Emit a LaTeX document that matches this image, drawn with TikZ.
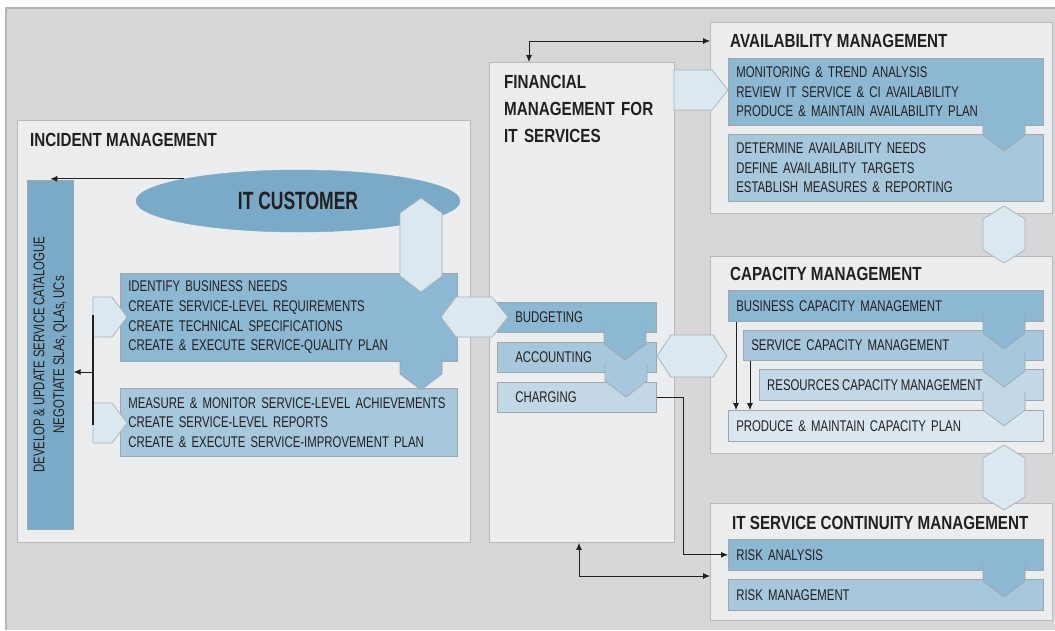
\documentclass[tikz,border=0pt]{standalone}
\usepackage{fontspec}
\usepackage{graphicx}
\usetikzlibrary{positioning,shapes.geometric,arrows.meta,calc}

\newfontfamily\bodyfont[FakeStretch=0.735, WordSpace=0.85]{Liberation Sans}
\newfontfamily\headfont[FakeStretch=0.8]{Liberation Sans}
\newfontfamily\custfont[FakeStretch=0.7]{Liberation Sans}
\newcommand{\bodysize}{\bodyfont\fontsize{15.5}{19.6}\selectfont}
\newcommand{\headsize}{\headfont\bfseries\fontsize{19}{27}\selectfont}

\definecolor{cBg}{HTML}{D7D7D9}
\definecolor{cFrame}{HTML}{B4B4B6}
\definecolor{cPanel}{HTML}{ECEDEF}
\definecolor{cPanelLine}{HTML}{B9B9BB}
\definecolor{cBoxLine}{HTML}{A0A6AC}
\definecolor{cInk}{HTML}{231F20}
\definecolor{cBlueA}{HTML}{7AAAC8}
\definecolor{cBlueB}{HTML}{8DB8D3}
\definecolor{cBlueC}{HTML}{A7C7DC}
\definecolor{cBlueD}{HTML}{C2D8E6}
\definecolor{cBlueE}{HTML}{DAE7F0}
\definecolor{cLite}{HTML}{DCE8F0}
\definecolor{cLiteLine}{HTML}{A8B0B8}

\begin{document}
\begin{tikzpicture}[x=1pt, y=-1pt,
  panel/.style={rectangle, draw=cPanelLine, fill=cPanel, line width=0.9pt, anchor=north west, inner sep=0pt},
  box/.style={rectangle, draw=cBoxLine, line width=0.6pt, anchor=north west, inner xsep=8pt, inner ysep=0pt, align=left, font=\bodysize, text=cInk},
  title/.style={anchor=base west, inner sep=0pt, font=\headsize, text=cInk},
  hexa/.style={fill=cLite, draw=cLiteLine, line width=0.7pt},
  side/.style={draw=cBoxLine, line width=0.6pt},
  conn/.style={draw=cInk, line width=0.8pt, -{Latex[length=7pt,width=6pt]}},
  twoway/.style={draw=cInk, line width=0.8pt, {Latex[length=7pt,width=6pt]}-{Latex[length=7pt,width=6pt]}}]

 \useasboundingbox (0,0) rectangle (1055,630);
 \fill[cBg] (6,8) rectangle (1055,630);
 \draw[cFrame, line width=1.5pt] (6,630) -- (6,8) -- (1055,8);

 % panels
 \node[panel, minimum width=453, minimum height=422] (inc) at (17,120) {};
 \node[panel, minimum width=185, minimum height=480] (fin) at (489,62) {};
 \node[panel, minimum width=342, minimum height=191] (avail) at (710,22) {};
 \node[panel, minimum width=342, minimum height=197] (cap) at (710,256) {};
 \node[panel, minimum width=342, minimum height=117] (itscm) at (710,503) {};

 \node[title] (inctitle) at (30,146) {INCIDENT MANAGEMENT};
 \node[title, text width=170pt, align=left] (fintitle) at (504,88) {FINANCIAL\\MANAGEMENT FOR\\IT SERVICES};
 \node[title] (avtitle) at (730,47) {AVAILABILITY MANAGEMENT};
 \node[title] (captitle) at (730,280) {CAPACITY MANAGEMENT};
 \node[title] (itsctitle) at (732,529) {IT SERVICE CONTINUITY MANAGEMENT};

 % incident management
 \node[box, fill=cBlueA, minimum width=46, minimum height=349, inner sep=0pt, align=center] (bar) at (27,180)
   {\rotatebox{90}{\begin{tabular}{@{}c@{}}DEVELOP \& UPDATE SERVICE CATALOGUE\\NEGOTIATE SLAs, QLAs, UCs\end{tabular}}};
 \node[ellipse, fill=cBlueA, draw=cBlueA, minimum width=324, minimum height=62, text=cInk,
   font=\custfont\bfseries\fontsize{25}{25}\selectfont] (cust) at (298,201) {IT CUSTOMER};
 \node[box, fill=cBlueB, minimum width=337, minimum height=88, text width=321pt] (needs) at (120,273)
   {IDENTIFY BUSINESS NEEDS\\CREATE SERVICE-LEVEL REQUIREMENTS\\CREATE TECHNICAL SPECIFICATIONS\\CREATE \& EXECUTE SERVICE-QUALITY PLAN};
 \node[box, fill=cBlueC, minimum width=337, minimum height=68, text width=321pt] (review) at (120,388)
   {MEASURE \& MONITOR SERVICE-LEVEL ACHIEVEMENTS\\CREATE SERVICE-LEVEL REPORTS\\CREATE \& EXECUTE SERVICE-IMPROVEMENT PLAN};

 % financial management
 \node[box, fill=cBlueB, minimum width=159, minimum height=30, inner xsep=18pt, text width=123pt] (budg) at (497,302) {BUDGETING};
 \node[box, fill=cBlueC, minimum width=159, minimum height=30, inner xsep=18pt, text width=123pt] (acct) at (497,342) {ACCOUNTING};
 \node[box, fill=cBlueD, minimum width=159, minimum height=30, inner xsep=18pt, text width=123pt] (charg) at (497,382) {CHARGING};

 % availability management
 \node[box, fill=cBlueB, minimum width=315, minimum height=67, text width=299pt] (monit) at (728,58)
   {MONITORING \& TREND ANALYSIS\\REVIEW IT SERVICE \& CI AVAILABILITY\\PRODUCE \& MAINTAIN AVAILABILITY PLAN};
 \node[box, fill=cBlueC, minimum width=315, minimum height=67, text width=299pt] (avneeds) at (728,134)
   {DETERMINE AVAILABILITY NEEDS\\DEFINE AVAILABILITY TARGETS\\ESTABLISH MEASURES \& REPORTING};

 % capacity management
 \node[box, fill=cBlueB, minimum width=315, minimum height=31, text width=299pt] (bus) at (728,290) {BUSINESS CAPACITY MANAGEMENT};
 \node[box, fill=cBlueC, minimum width=300, minimum height=30, text width=284pt] (serv) at (743,330) {SERVICE CAPACITY MANAGEMENT};
 \node[box, fill=cBlueD, minimum width=284, minimum height=31] (res) at (759,369) {};
 \node[box, fill=cBlueE, minimum width=315, minimum height=31, text width=299pt] (plan) at (728,410) {PRODUCE \& MAINTAIN CAPACITY PLAN};

 % it service continuity management
 \node[box, fill=cBlueB, minimum width=315, minimum height=31, text width=299pt] (risk) at (728,539) {RISK ANALYSIS};
 \node[box, fill=cBlueC, minimum width=315, minimum height=31, text width=299pt] (riskm) at (728,579) {RISK MANAGEMENT};

 % connectors
 \draw[conn] (cust.169) -- (cust.169 -| bar.center);
 \coordinate (in1) at (93,315);
 \coordinate (in2) at (93,425);
 \coordinate (jn) at (93,372);
 \coordinate (ft) at (529,41);
 \coordinate (fb) at (579,576);
 \draw[twoway] (ft |- fin.north) -- (ft) -- (ft -| avail.west);
 \draw[twoway] (fb |- fin.south) -- (fb) -- (fb -| itscm.west);
 \draw[conn] (charg.east) -- ++(27,0) |- (risk.west);
 \coordinate (b1) at ([xshift=8pt]bus.south west);
 \coordinate (s1) at ([xshift=7pt]serv.south west);
 \draw[conn] (b1) -- (b1 |- plan.north);
 \draw[conn] (s1) -- (s1 |- plan.north);

 % light arrows and hexagons
 \draw[hexa] (93,297) -- (112,297) -- (127,317) -- (112,337) -- (93,337) -- cycle;
 \draw[hexa] (93,403) -- (112,403) -- (127,423) -- (112,443) -- (93,443) -- cycle;
 \draw[hexa] (674,70) -- (712,70) -- (728,90) -- (712,110) -- (674,110) -- cycle;
 \draw[hexa] (421,198) -- (442,213) -- (442,276) -- (421,292) -- (400,276) -- (400,213) -- cycle;
 \draw[hexa] (441,317) -- (456,297) -- (492,297) -- (508,317) -- (492,337) -- (456,337) -- cycle;
 \draw[hexa] (657,356) -- (671,335) -- (713,335) -- (727,356) -- (713,377) -- (671,377) -- cycle;
 \draw[hexa] (1004,206) -- (1025,219) -- (1025,250) -- (1004,263) -- (983,250) -- (983,219) -- cycle;
 \draw[hexa] (1004,445) -- (1025,458) -- (1025,497) -- (1004,510) -- (983,497) -- (983,458) -- cycle;
 \draw[cInk, line width=1.2pt] (in1) -- (in2);
 \draw[conn] (jn) -- (jn -| bar.east);

 % down arrows between steps
 \foreach \x/\ya/\yb/\col in {421/357/390/cBlueB, 625/325/360/cBlueB, 626/363/397/cBlueC,
     1004/119/151/cBlueB, 1004/314/349/cBlueB, 1004/352/387/cBlueC, 1004/392/426/cBlueD, 1004/563/597/cBlueB}{
   \fill[fill=\col] (\x-21,\ya) -- (\x+21,\ya) -- (\x+21,\yb-16) -- (\x,\yb) -- (\x-21,\yb-16) -- cycle;
   \draw[side] (\x-21,\ya) -- (\x-21,\yb-16) -- (\x,\yb) -- (\x+21,\yb-16) -- (\x+21,\ya);
 }

 \node[anchor=west, inner sep=0pt, font=\bodysize, text=cInk] (restext) at ([xshift=8pt]res.west) {RESOURCES CAPACITY MANAGEMENT};
\end{tikzpicture}
\end{document}
